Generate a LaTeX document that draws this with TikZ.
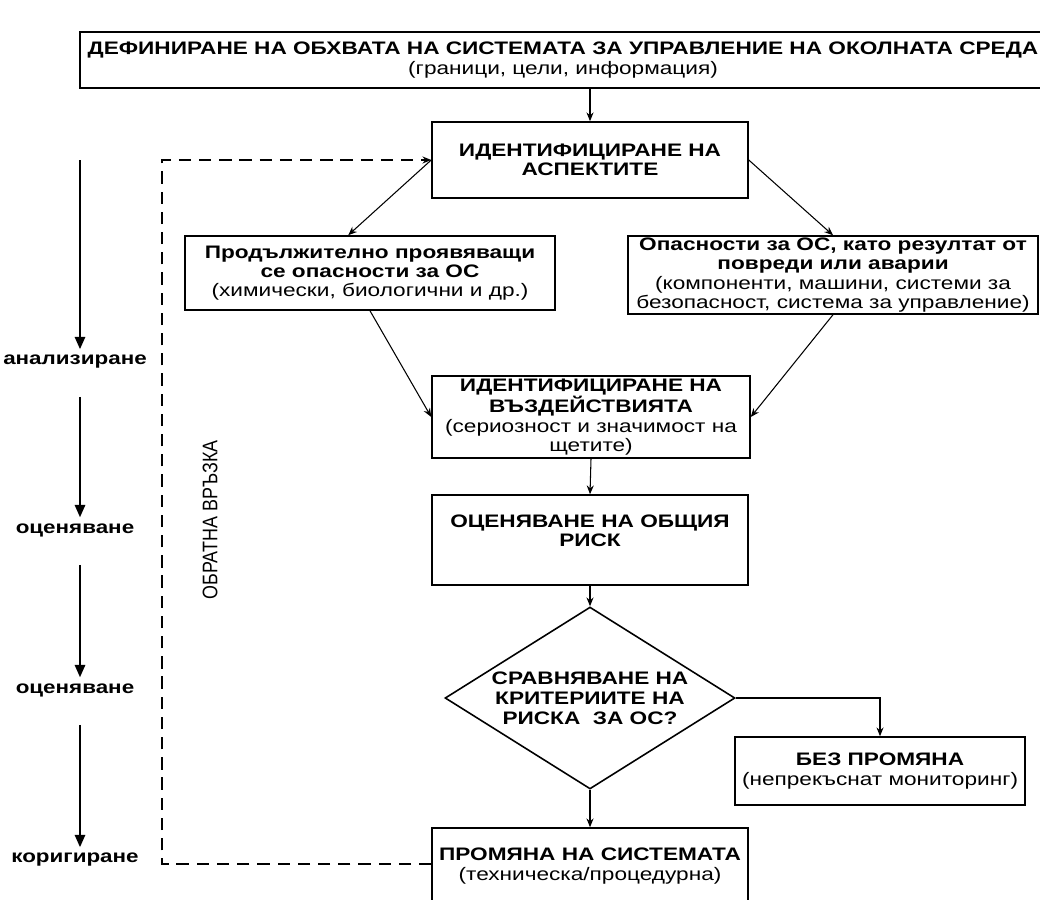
\documentclass[tikz,border=0pt]{standalone}
\usepackage{fontspec}
\setmainfont{Liberation Sans}[FakeStretch=1.25]
\newfontfamily\narrowfont{Liberation Sans}[FakeStretch=0.85]
\usetikzlibrary{positioning,shapes.geometric,arrows.meta}

\begin{document}
\begin{tikzpicture}[x=0.02cm,y=-0.02cm,
		box/.style={draw,line width=0.9pt,align=center,inner sep=1pt,font=\fontsize{10.3}{11}\selectfont\bfseries},
		flow/.style={-{Stealth[length=5pt,width=4pt]},line width=0.6pt},
		phase/.style={-{Triangle[length=7pt,width=6pt]},line width=0.8pt},
		feedback/.style={dash pattern=on 7pt off 4.5pt,line width=0.7pt},
		phaselabel/.style={font=\fontsize{10.2}{11}\selectfont\bfseries}]
	\clip (0,0) rectangle (1040,899);
	% main flow
	\node[box,minimum width=19.32cm,minimum height=1.12cm] (scope) at (563,60)
		{ДЕФИНИРАНЕ НА ОБХВАТА НА СИСТЕМАТА ЗА УПРАВЛЕНИЕ НА ОКОЛНАТА СРЕДА\\
		\mdseries (граници, цели, информация)};
	\node[box,minimum width=6.32cm,minimum height=1.52cm] (aspects) at (590,160)
		{ИДЕНТИФИЦИРАНЕ НА\\АСПЕКТИТЕ};
	\node[box,minimum width=7.4cm,minimum height=1.48cm] (lhaz) at (370,273)
		{Продължително проявяващи\\се опасности за ОС\\\mdseries(химически, биологични и др.)};
	\node[box,minimum width=8.2cm,minimum height=1.52cm] (rhaz) at (833,275)
		{Опасности за ОС, като резултат от\\повреди или аварии\\\mdseries(компоненти, машини, системи за\\\mdseries безопасност, система за управление)};
	\node[box,minimum width=6.36cm,minimum height=1.64cm] (impacts) at (591,417)
		{ИДЕНТИФИЦИРАНЕ НА\\ВЪЗДЕЙСТВИЯТА\\\mdseries(сериозност и значимост на\\\mdseries щетите)};
	\node[box,minimum width=6.32cm,minimum height=1.8cm] (risk) at (590,540)
		{ОЦЕНЯВАНЕ НА ОБЩИЯ\\РИСК\\\mbox{}};
	\node[box,diamond,aspect=1.6,minimum width=5.8cm,minimum height=3.64cm,inner sep=0pt,
		font=\fontsize{10.3}{11.5}\selectfont\bfseries] (cmp) at (590,698)
		{СРАВНЯВАНЕ НА\\КРИТЕРИИТЕ НА\\РИСКА~~ЗА ОС?};
	\node[box,minimum width=5.8cm,minimum height=1.36cm] (nochange) at (880,771)
		{БЕЗ ПРОМЯНА\\\mdseries(непрекъснат мониторинг)};
	\node[box,minimum width=6.32cm,minimum height=1.52cm] (change) at (590,866)
		{ПРОМЯНА НА СИСТЕМАТА\\\mdseries(техническа/процедурна)};

	\draw[flow] (aspects.north |- scope.south) -- (aspects.north);
	\draw[flow] (aspects.west) -- (lhaz.120);
	\draw[flow] (aspects.east) -- (rhaz.north);
	\draw[flow] (lhaz.south) -- (impacts.west);
	\draw[flow] (rhaz.south) -- (impacts.east);
	\draw[flow] (impacts.south) -- (risk.north);
	\draw[flow] (risk.south) -- (cmp.north);
	\draw[flow] (cmp.east) -| (nochange.north);
	\draw[flow] (cmp.south) -- (change.north);

	% feedback loop
	\coordinate (fb) at (162,864);
	\draw[feedback,-{Stealth[length=5pt,width=4pt]}] (change.west |- fb) -- (fb) |- (aspects.west);
	\node[rotate=90,font=\narrowfont\fontsize{12}{13}\selectfont] (fbtext) at (210,520) {ОБРАТНА ВРЪЗКА};

	% phases on the left
	\node[phaselabel] (analyse) at (75,362) {анализиране};
	\node[phaselabel] (assess) at (75,530) {оценяване};
	\node[phaselabel] (evaluate) at (75,690) {оценяване};
	\node[phaselabel] (correct) at (75,860) {коригиране};
	\coordinate (start) at (80,160);
	\draw[phase] (start) -- (analyse.north -| start);
	\draw[phase] (analyse.south -| start) ++(0,22) -- (assess.north -| start);
	\draw[phase] (assess.south -| start) ++(0,22) -- (evaluate.north -| start);
	\draw[phase] (evaluate.south -| start) ++(0,22) -- (correct.north -| start);
\end{tikzpicture}
\end{document}
